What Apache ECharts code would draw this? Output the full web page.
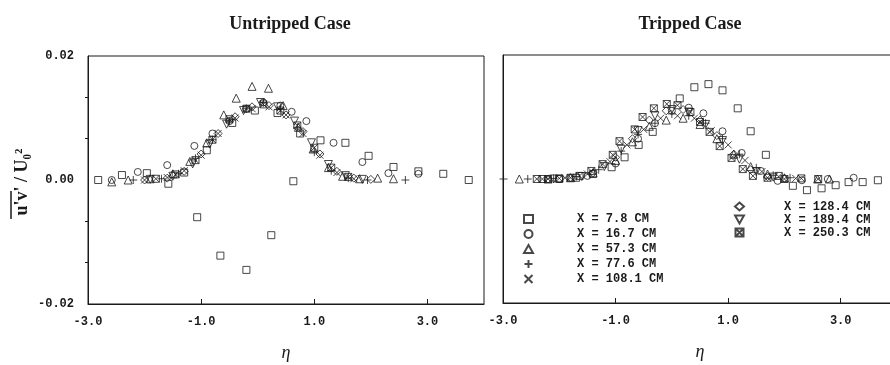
<!DOCTYPE html>
<html>
<head>
<meta charset="utf-8">
<script src="https://cdn.jsdelivr.net/npm/echarts@6/dist/echarts.min.js"></script>
<style>html,body{margin:0;padding:0;background:#fff;}#c{width:890px;height:365px;}</style>
</head>
<body>
<div id="c"></div>
<script>
// ---- tick labels / axis settings ----
const xTicks = [-3.0, -1.0, 1.0, 3.0];
const yTicks = [-0.02, 0.00, 0.02];
const seriesNames = ['X = 7.8 CM','X = 16.7 CM','X = 57.3 CM','X = 77.6 CM','X = 108.1 CM','X = 128.4 CM','X = 189.4 CM','X = 250.3 CM'];

// ---- Untripped case: [eta, u'v'/U0^2] ----
const un_7_8 = [[-2.82,0.0],[-2.40,0.0008],[-1.96,0.0011],[-1.58,-0.0006],[-1.07,-0.006],[-0.66,-0.0122],[-0.20,-0.0145],[0.24,-0.0089],[0.63,-0.0002],[1.11,0.0064],[1.55,0.006],[1.96,0.0039],[2.40,0.0021],[2.84,0.0014],[3.28,0.001],[3.73,0.0],[-1.3,0.0012],[-0.9,0.0048],[-0.45,0.0092],[-0.05,0.0112],[0.35,0.0108],[0.75,0.0075]];
const un_16_7 = [[-2.58,0.0],[-2.12,0.0013],[-1.60,0.0024],[-1.12,0.0055],[-0.8,0.0075],[-0.5,0.0095],[-0.2,0.0115],[0.1,0.0125],[0.4,0.012],[0.6,0.011],[0.86,0.0095],[1.34,0.006],[1.85,0.0029],[2.31,0.0011],[2.84,0.001]];
const un_57_3 = [[-2.58,-0.0003],[-2.29,0.0],[-1.9,0.0002],[-1.5,0.001],[-1.2,0.003],[-0.9,0.006],[-0.6,0.0105],[-0.38,0.0132],[-0.1,0.0151],[0.19,0.0148],[0.45,0.012],[0.72,0.0085],[0.98,0.005],[1.25,0.002],[1.5,0.0006],[1.8,0.0002],[2.12,0.0003],[2.40,0.0002]];
const un_77_6 = [[-2.2,0.0],[-1.7,0.0002],[-1.4,0.001],[-1.1,0.0035],[-0.8,0.0065],[-0.5,0.0095],[-0.2,0.0115],[0.1,0.0125],[0.4,0.0115],[0.7,0.0085],[1.0,0.0045],[1.3,0.0015],[1.6,0.0003],[1.94,0.0],[2.61,0.0]];
const un_108_1 = [[-2.0,0.0],[-1.6,0.0004],[-1.3,0.0015],[-1.0,0.004],[-0.7,0.0075],[-0.4,0.01],[-0.1,0.0115],[0.2,0.0118],[0.5,0.0105],[0.8,0.0075],[1.1,0.004],[1.4,0.0012],[1.7,0.0002]];
const un_128_4 = [[-2.0,0.0],[-1.6,0.0003],[-1.3,0.0014],[-1.0,0.0042],[-0.7,0.0075],[-0.4,0.0102],[-0.1,0.0118],[0.2,0.012],[0.5,0.0105],[0.8,0.0078],[1.1,0.0042],[1.4,0.0014],[1.7,0.0003],[2.0,0.0001]];
const un_189_4 = [[-1.9,0.0001],[-1.5,0.0006],[-1.15,0.0026],[-0.85,0.0058],[-0.55,0.009],[-0.25,0.0112],[0.05,0.0125],[0.35,0.0118],[0.65,0.0095],[0.95,0.006],[1.25,0.0025],[1.55,0.0007],[1.85,0.0001]];
const un_250_3 = [[-1.8,0.0002],[-1.45,0.0009],[-1.1,0.0032],[-0.8,0.0065],[-0.5,0.0098],[-0.2,0.0115],[0.1,0.0122],[0.4,0.0112],[0.7,0.0088],[1.0,0.0052],[1.3,0.002],[1.6,0.0005]];

// ---- Tripped case ----
const tr_7_8 = [[-2.3,0.0],[-2.0,0.0],[-1.7,0.0002],[-1.4,0.0008],[-1.07,0.0019],[-0.84,0.0035],[-0.59,0.0055],[-0.34,0.0076],[0.14,0.013],[0.40,0.0148],[0.65,0.0153],[0.90,0.0143],[1.17,0.0114],[1.40,0.0077],[1.67,0.0039],[1.90,0.0005],[2.15,-0.0011],[2.40,-0.0018],[2.66,-0.0015],[2.91,-0.001],[3.14,-0.0005],[3.39,-0.0005],[3.66,-0.0002]];
const tr_16_7 = [[-2.0,0.0],[-1.5,0.0005],[-1.0,0.0025],[-0.6,0.0065],[-0.3,0.009],[0.0,0.011],[0.3,0.0115],[0.56,0.0106],[0.90,0.0077],[1.24,0.0042],[1.58,0.0013],[1.88,-0.0003],[2.31,-0.0002],[2.77,0.0],[3.23,0.0002]];
const tr_57_3 = [[-2.71,0.0],[-2.2,0.0],[-1.8,0.0002],[-1.4,0.001],[-1.0,0.003],[-0.7,0.006],[-0.4,0.0085],[-0.1,0.0095],[0.2,0.0098],[0.5,0.0088],[0.8,0.0065],[1.1,0.004],[1.4,0.002],[1.7,0.0008],[2.0,0.0002],[2.59,0.0],[2.8,0.0]];
const tr_77_6 = [[-2.99,0.0],[-2.56,0.0],[-2.1,0.0001],[-1.7,0.0004],[-1.3,0.0015],[-0.9,0.0045],[-0.6,0.0072],[-0.3,0.009],[0.0,0.0105],[0.3,0.0102],[0.6,0.009],[0.9,0.0065],[1.2,0.004],[1.5,0.0018],[1.8,0.0006],[2.1,0.0002]];
const tr_108_1 = [[-2.3,0.0],[-1.9,0.0002],[-1.5,0.0008],[-1.1,0.0028],[-0.8,0.0055],[-0.5,0.008],[-0.2,0.0098],[0.1,0.0102],[0.4,0.0098],[0.7,0.0078],[1.0,0.0055],[1.3,0.003],[1.6,0.0012],[1.9,0.0004],[2.2,0.0001]];
const tr_128_4 = [[-2.2,0.0],[-1.8,0.0002],[-1.4,0.001],[-1.0,0.0035],[-0.7,0.0065],[-0.4,0.0095],[-0.1,0.011],[0.2,0.0112],[0.5,0.0095],[0.8,0.007],[1.1,0.004],[1.4,0.0015],[1.7,0.0004],[2.0,0.0001]];
const tr_189_4 = [[-2.1,0.0],[-1.6,0.0004],[-1.2,0.002],[-0.9,0.0048],[-0.6,0.0078],[-0.3,0.0102],[0.0,0.0112],[0.3,0.0108],[0.6,0.0088],[0.9,0.0062],[1.2,0.0032],[1.5,0.0012],[1.8,0.0003]];
const tr_250_3 = [[-2.4,0.0],[-2.2,0.0],[-2.0,0.0001],[-1.8,0.0002],[-1.64,0.0005],[-1.43,0.0013],[-1.23,0.0024],[-1.05,0.0039],[-0.93,0.0061],[-0.66,0.008],[-0.52,0.01],[-0.32,0.0114],[-0.09,0.0121],[0.10,0.0119],[0.33,0.0108],[0.5,0.0092],[0.67,0.0076],[0.85,0.0053],[1.06,0.0034],[1.26,0.0016],[1.44,0.0005],[1.7,0.0002],[2.0,0.0],[2.3,0.0001],[2.6,0.0]];

const untripped = [un_7_8, un_16_7, un_57_3, un_77_6, un_108_1, un_128_4, un_189_4, un_250_3];
const tripped = [tr_7_8, tr_16_7, tr_57_3, tr_77_6, tr_108_1, tr_128_4, tr_189_4, tr_250_3];

const symbols = [
  'rect', 'circle', 'triangle',
  'path://M5,0 L5,10 M0,5 L10,5',
  'path://M0,0 L10,10 M10,0 L0,10',
  'diamond',
  'path://M0,0 L10,0 L5,9 Z',
  'path://M0,0 L10,0 L10,10 L0,10 Z M0,0 L10,10 M10,0 L0,10'
];
const sizes = [7, 7, 8, 8, 7, 8, 8, 7];
const INK = '#1a1a1a';
const serif = 'Liberation Serif';
const mono = 'Liberation Mono';

function mkSeries(sets, idx) {
  return sets.map((d, i) => ({
    name: seriesNames[i],
    type: 'scatter',
    xAxisIndex: idx, yAxisIndex: idx,
    data: d,
    symbol: symbols[i],
    symbolSize: sizes[i],
    itemStyle: { color: 'rgba(255,255,255,0)', borderColor: INK, borderWidth: 1 },
    emphasis: { disabled: true },
    silent: true
  }));
}

function xAxis(idx) {
  return {
    type: 'value', gridIndex: idx, min: -3, max: 4, interval: 2,
    name: 'η', nameLocation: 'middle', nameGap: 40,
    nameTextStyle: { fontFamily: serif, fontStyle: 'italic', fontSize: 18, color: INK },
    axisLine: { show: true, onZero: false, lineStyle: { color: INK, width: 1 } },
    axisTick: { show: true, inside: true, length: 5, lineStyle: { color: INK } },
    splitLine: { show: false },
    axisLabel: { showMaxLabel: false, margin: 12, fontFamily: mono, fontWeight: 'bold', fontSize: 12, color: INK,
      formatter: v => (xTicks.indexOf(v) >= 0 ? v.toFixed(1) : '') }
  };
}

const option = {
  backgroundColor: '#fff',
  animation: false,
  title: [
    { text: 'Untripped Case', left: 285, top: 10, textAlign: 'center',
      textStyle: { fontFamily: serif, fontWeight: 'bold', fontSize: 18, color: INK } },
    { text: 'Tripped Case', left: 685, top: 10, textAlign: 'center',
      textStyle: { fontFamily: serif, fontWeight: 'bold', fontSize: 18, color: INK } }
  ],
  graphic: [
    { type: 'text', x: 22, y: 182, rotation: Math.PI / 2,
      style: { text: "u'v' / U\u2080\u00B2", font: 'bold 18px "Liberation Serif"', fill: INK,
        align: 'center', verticalAlign: 'middle' } },
    { type: 'line', shape: { x1: 11, y1: 191, x2: 11, y2: 219 }, style: { stroke: INK, lineWidth: 1.5 } }
  ],
  grid: [
    { left: 88, top: 56, width: 396, height: 248, show: true, borderColor: INK, borderWidth: 1, backgroundColor: 'transparent', outerBoundsMode: 'none', containLabel: false },
    { left: 503, top: 55, width: 394, height: 248, show: true, borderColor: INK, borderWidth: 1, backgroundColor: 'transparent', outerBoundsMode: 'none', containLabel: false }
  ],
  xAxis: [xAxis(0), xAxis(1)],
  yAxis: [
    { type: 'value', gridIndex: 0, min: -0.02, max: 0.02, interval: 0.02,
      axisLine: { show: true, onZero: false, lineStyle: { color: INK } },
      axisTick: { show: false },
      minorTick: { show: true, splitNumber: 3, length: 3, lineStyle: { color: INK } },
      splitLine: { show: false },
      axisLabel: { margin: 14, fontFamily: mono, fontWeight: 'bold', fontSize: 12, color: INK,
        formatter: v => v.toFixed(2) } },
    { type: 'value', gridIndex: 1, min: -0.02, max: 0.02, interval: 0.02,
      axisLine: { show: true, onZero: false, lineStyle: { color: INK } },
      axisTick: { show: false }, splitLine: { show: false }, axisLabel: { show: false } }
  ],
  legend: [
    { data: seriesNames.slice(0, 5), orient: 'vertical', left: 518, top: 207, itemGap: 1,
      itemWidth: 9, itemHeight: 8, selectedMode: false,
      textStyle: { fontFamily: mono, fontWeight: 'bold', fontSize: 12, color: INK, padding: [0, 0, 0, 39], lineHeight: 14 } },
    { data: seriesNames.slice(5), orient: 'vertical', left: 729, top: 195, itemGap: 0,
      itemWidth: 9, itemHeight: 8, selectedMode: false,
      textStyle: { fontFamily: mono, fontWeight: 'bold', fontSize: 12, color: INK, padding: [0, 0, 0, 35], lineHeight: 13 } }
  ],
  series: [...mkSeries(untripped, 0), ...mkSeries(tripped, 1)]
};

const chart = echarts.init(document.getElementById('c'), null, { renderer: 'canvas' });
chart.setOption(option);
</script>
</body>
</html>
